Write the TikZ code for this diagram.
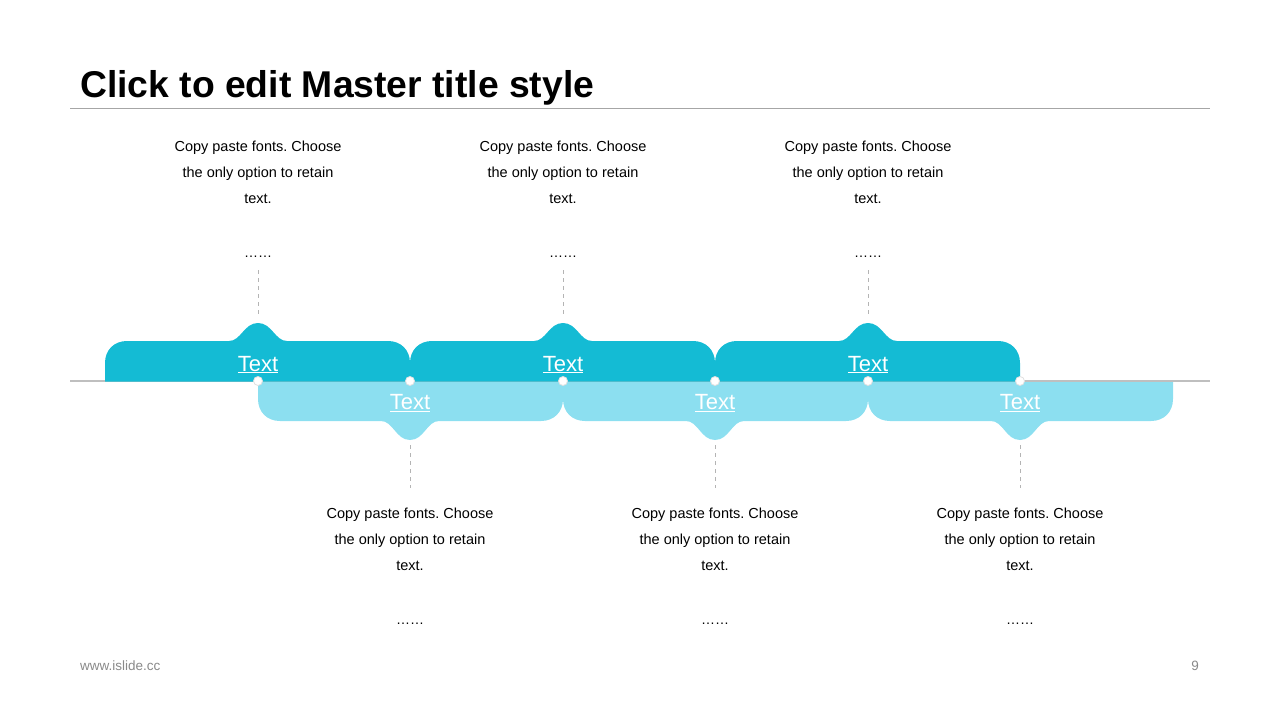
\documentclass[tikz,border=0pt]{standalone}
\usepackage{fontspec}
\setmainfont{Liberation Sans}
\usepackage{tikz}
\usetikzlibrary{positioning}
\definecolor{tabdark}{RGB}{20,187,212}
\definecolor{tablight}{RGB}{140,223,240}
\definecolor{rulegray}{RGB}{180,180,180}
\definecolor{footgray}{RGB}{137,137,137}
\frenchspacing

\begin{document}
\begin{tikzpicture}[x=1pt,y=-1pt,
	desc/.style={align=center,inner sep=0pt,anchor=north,font=\fontsize{14.5}{26}\selectfont},
	dotsline/.style={inner sep=0pt,anchor=base,font=\fontsize{14}{16}\selectfont},
	tabtext/.style={text=white,inner sep=0pt,anchor=base,font=\fontsize{22}{26}\selectfont},
	leader/.style={rulegray,dash pattern=on 4pt off 4pt,line width=1pt},
	joint/.style={circle,fill=white,draw=black!12,line width=0.8pt,inner sep=0pt,minimum size=9pt}]
	\useasboundingbox (0,0) rectangle (1280,720);
	\node[anchor=base west,inner sep=0pt,font=\fontsize{37.3}{40}\selectfont\bfseries] (title) at (80,97) {Click to edit Master title style};
	\draw[black!35,line width=1pt] (70,108) -- (1210,108);
	\draw[black!25,line width=1.5pt] (70,381) -- (1210,381);
	\foreach \c in {410,715,1020}
		\fill[tablight] ({\c-152},382) -- ({\c-152},399) .. controls ({\c-152},412) and ({\c-143},421) .. ({\c-130},421) -- ({\c-29},421) .. controls ({\c-17},421) and ({\c-14},440) .. (\c,440) .. controls ({\c+14},440) and ({\c+17},421) .. ({\c+29},421) -- ({\c+131},421) .. controls ({\c+144},421) and ({\c+153},412) .. ({\c+153},399) -- ({\c+153},382) -- cycle;
	\foreach \c in {258,563,868}
		\fill[tabdark] ({\c-153},381.5) -- ({\c-153},363) .. controls ({\c-153},350) and ({\c-144},341) .. ({\c-131},341) -- ({\c-29},341) .. controls ({\c-17},341) and ({\c-14},323) .. (\c,323) .. controls ({\c+14},323) and ({\c+17},341) .. ({\c+29},341) -- ({\c+130},341) .. controls ({\c+143},341) and ({\c+152},350) .. ({\c+152},363) -- ({\c+152},381.5) -- cycle;
	\foreach \x [count=\i] in {258,410,563,715,868,1020}
		\node[joint] (j\i) at (\x,381) {};
	\foreach \c [count=\i] in {258,563,868} {
		\node[desc] (up\i) at (\c,141) {Copy paste fonts. Choose\\the only option to retain\\text.};
		\node[dotsline] (updots\i) at (\c,257) {……};
		\coordinate (uptip\i) at (\c,314);
		\draw[leader] ([yshift=-13pt]updots\i.base) -- (uptip\i);
		\node[tabtext] (uplabel\i) at (\c,371) {\underline{Text}};
	}
	\foreach \c [count=\i] in {410,715,1020} {
		\node[desc] (down\i) at (\c,508) {Copy paste fonts. Choose\\the only option to retain\\text.};
		\node[dotsline] (downdots\i) at (\c,624) {……};
		\coordinate (downtip\i) at (\c,445);
		\draw[leader] (downtip\i) -- ([yshift=20pt]down\i.north);
		\node[tabtext] (downlabel\i) at (\c,409.5) {\underline{Text}};
	}
	\node[anchor=base west,inner sep=0pt,text=footgray,font=\fontsize{13.5}{15}\selectfont] (site) at (80,670) {www.islide.cc};
	\node[anchor=base east,inner sep=0pt,text=footgray,font=\fontsize{13.5}{15}\selectfont] (page) at (1199,670) {9};
\end{tikzpicture}
\end{document}
